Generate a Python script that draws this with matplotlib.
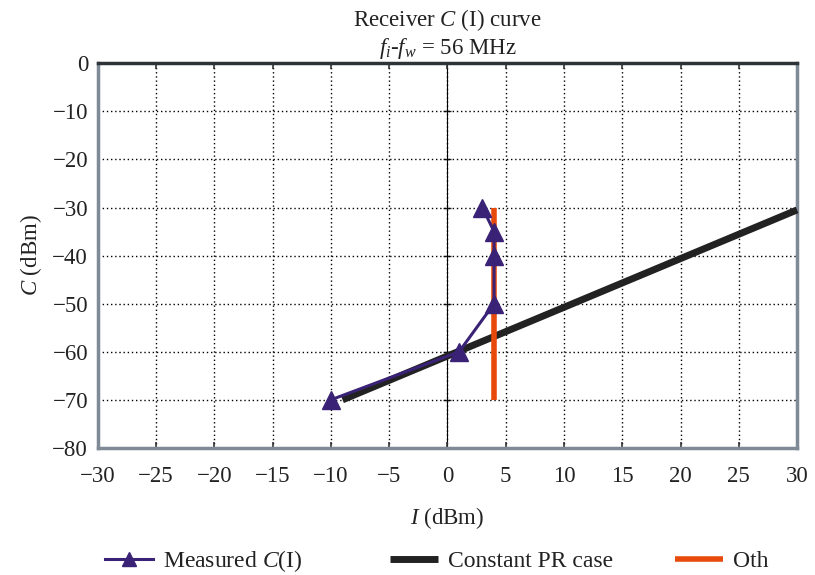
import matplotlib
matplotlib.use("Agg")
import matplotlib.pyplot as plt

plt.rcParams['font.family'] = ['Liberation Serif', 'DejaVu Serif']
plt.rcParams['mathtext.fontset'] = 'custom'
plt.rcParams['mathtext.rm'] = 'Liberation Serif'
plt.rcParams['mathtext.it'] = 'Liberation Serif:italic'

# Data
measured_I = [-10, 1, 4, 4, 4, 3]
measured_C = [-70, -60, -50, -40, -35, -30]
pr_I = [-9, 30]
pr_C = [-70, -30.5]
oth_I = [4, 4]
oth_C = [-70, -30]
xticks = list(range(-30, 31, 5))
yticks = list(range(-80, 1, 10))

fig = plt.figure(figsize=(8.15, 5.75), dpi=100)
ax = fig.add_axes([0.120, 0.221, 0.858, 0.669])

fs = 16.5
ax.set_xlim(-30, 30)
ax.set_ylim(-80, 0)
ax.set_xticks(xticks)
ax.set_yticks(yticks)
ax.set_xticklabels([("\u2212%d" % -v) if v < 0 else str(v) for v in xticks], fontsize=fs)
ax.set_yticklabels([("\u2212%d" % -v) if v < 0 else str(v) for v in yticks], fontsize=fs)
ax.tick_params(axis='both', which='both', length=0, colors='#222222')
ax.tick_params(axis='y', pad=7)
ax.tick_params(axis='x', pad=13)
ax.tick_params(axis='x', top=True, direction='in', length=4, width=1.2, color='#333333', labeltop=False)
ax.grid(True, linestyle=(0, (1, 2)), color='black', linewidth=1.0)

for s in ['left', 'bottom', 'right']:
    ax.spines[s].set_color('#7f8a96')
    ax.spines[s].set_linewidth(2.5)
ax.spines['top'].set_color('#2e3338')
ax.spines['top'].set_linewidth(2.5)

sec = ax.secondary_yaxis(0.5)
sec.set_yticks(yticks)
sec.set_yticklabels([])
sec.tick_params(direction='inout', length=6, width=1.0, color='#222222')
sec.spines['left'].set_color('#222222')
sec.spines['left'].set_linewidth(1.3)

l_pr, = ax.plot(pr_I, pr_C, color='#222222', linewidth=5, solid_capstyle='butt', clip_on=False,
                label='Constant PR case', zorder=3)
l_oth, = ax.plot(oth_I, oth_C, color='#e84a0c', linewidth=4, solid_capstyle='butt',
                 label='Oth', zorder=3)
l_meas, = ax.plot(measured_I, measured_C, color='#3a2376', linewidth=2.2, marker='^', markersize=13,
                  markeredgecolor='#3a2376', label='Measured $C$(I)', zorder=4, clip_on=False)

ax.set_title('Receiver $C$ (I) curve\n$f_i$-$f_w$ = 56 MHz', fontsize=fs, color='#222222',
             pad=7, linespacing=1.15)
ax.set_xlabel('$I$ (dBm)', fontsize=fs, color='#222222', labelpad=13)
ax.set_ylabel('$C$ (dBm)', fontsize=fs, color='#222222', labelpad=6)

for handle, xpos in [(l_meas, 0.1288), (l_pr, 0.4785), (l_oth, 0.828)]:
    leg = fig.legend([handle], [handle.get_label()], loc='center left',
                     bbox_to_anchor=(xpos, 0.024), frameon=False, fontsize=17,
                     handlelength=2.03, handletextpad=0.42, borderpad=0, borderaxespad=0,
                     markerscale=0.75)
    for t in leg.get_texts():
        t.set_color('#222222')

fig.savefig('out.png', dpi=100)
